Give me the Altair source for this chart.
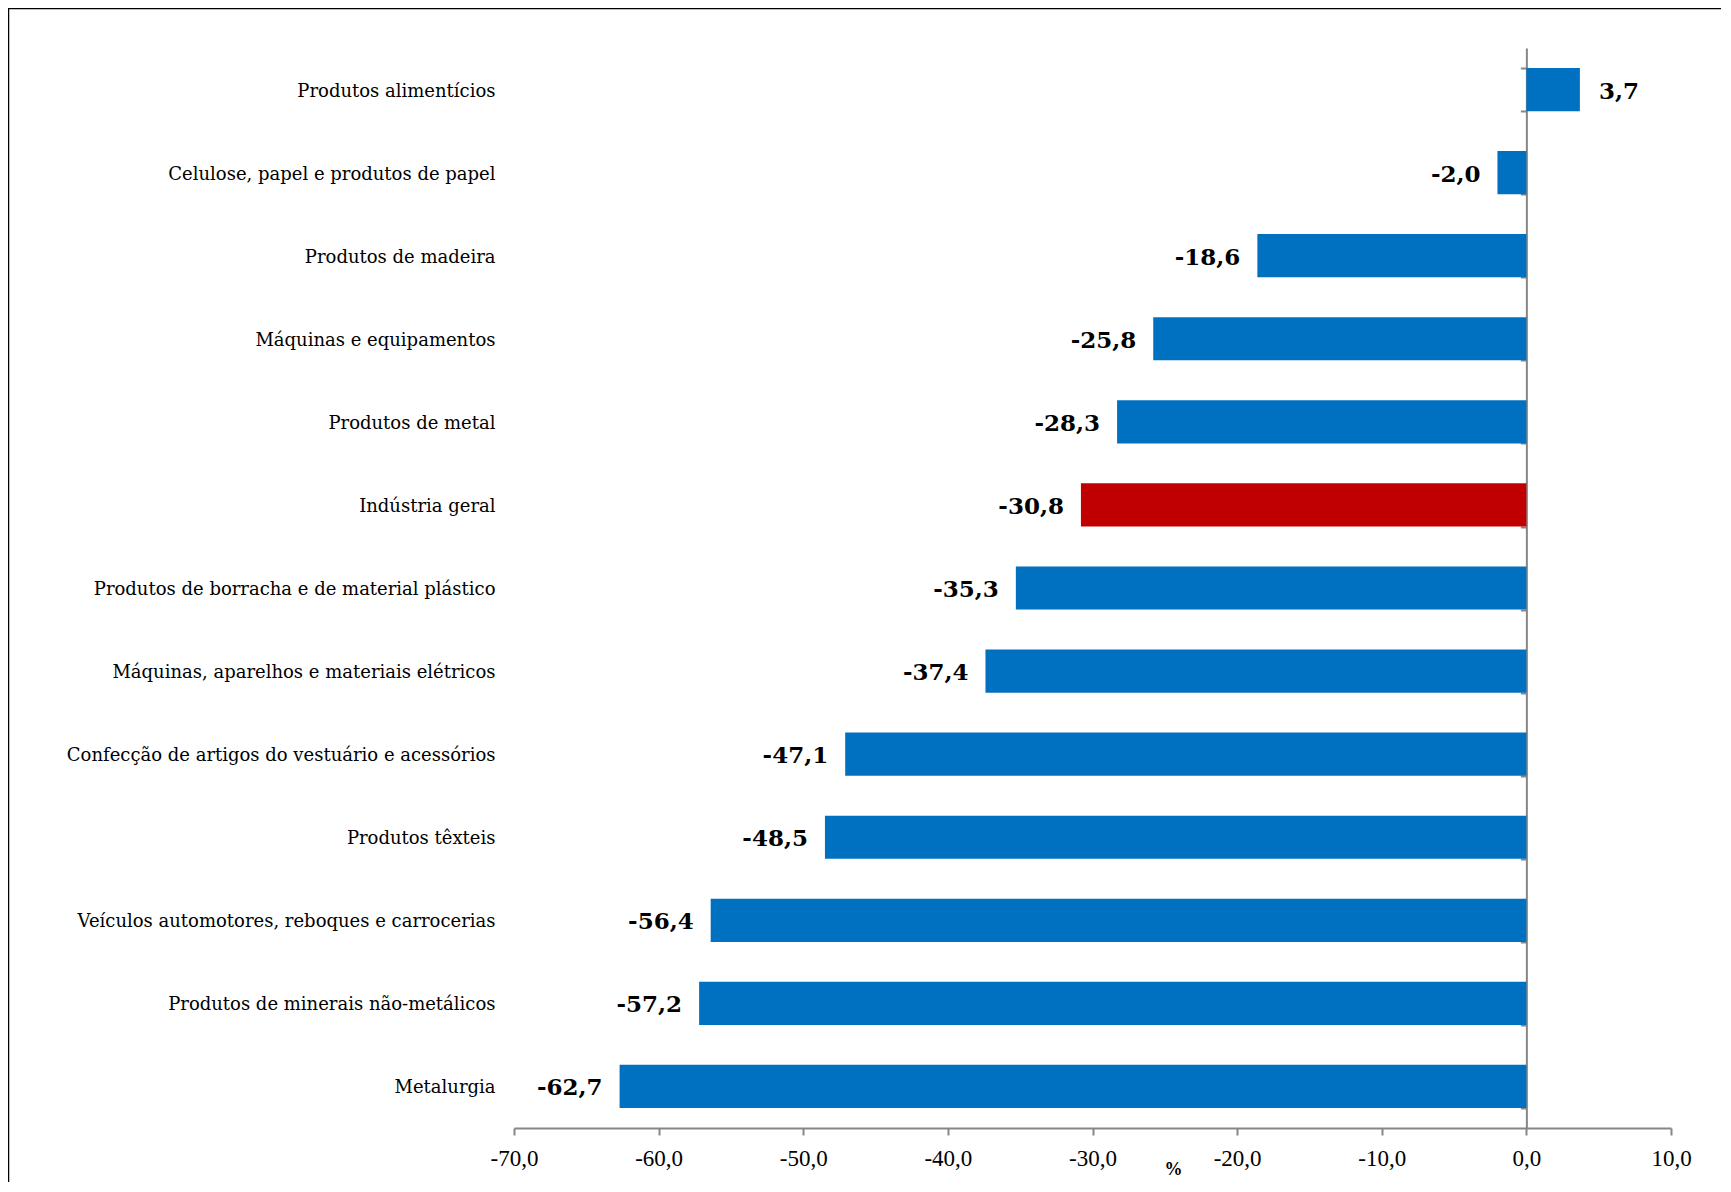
import altair as alt
import pandas as pd

categories = [
    "Produtos alimentícios",
    "Celulose, papel e produtos de papel",
    "Produtos de madeira",
    "Máquinas e equipamentos",
    "Produtos de metal",
    "Indústria geral",
    "Produtos de borracha e de material plástico",
    "Máquinas, aparelhos e materiais elétricos",
    "Confecção de artigos do vestuário e acessórios",
    "Produtos têxteis",
    "Veículos automotores, reboques e carrocerias",
    "Produtos de minerais não-metálicos",
    "Metalurgia",
]
values = [3.7, -2.0, -18.6, -25.8, -28.3, -30.8, -35.3, -37.4, -47.1, -48.5, -56.4, -57.2, -62.7]
highlight = "Indústria geral"
x_ticks = [-70, -60, -50, -40, -30, -20, -10, 0, 10]

df = pd.DataFrame({"cat": categories, "val": values})
df["grupo"] = ["total" if c == highlight else "setor" for c in categories]
df["lbl"] = [f"{v:.1f}".replace(".", ",") for v in values]

W, H = 1723, 1184
XR = [506, 1663]
YR = [40, 1120]
XD = [-70, 10]
zero_px = XR[0] + (0 - XD[0]) / (XD[1] - XD[0]) * (XR[1] - XR[0])

FONT = "Liberation Serif"
LFONT = "DejaVu Serif"
GRAY = "#868686"

x_enc = alt.X(
    "val:Q",
    scale=alt.Scale(domain=XD, range=XR, nice=False, zero=False),
    axis=alt.Axis(
        values=x_ticks,
        labelExpr="replace(replace(format(datum.value, '.1f'), '.', ','), '\u2212', '-')",
        orient="bottom",
        offset=-(H - YR[1]),
        domainColor=GRAY, domainWidth=2,
        tickColor=GRAY, tickWidth=2, tickSize=7,
        grid=False, labelFlush=False, labelOverlap=False,
        labelFont=FONT, labelFontSize=23, labelColor="#000000", labelPadding=12,
        title="%", titleFont=FONT, titleFontSize=18, titleFontWeight="bold",
        titleX=1165, titleY=32,
    ),
)

y_scale = alt.Scale(domain=categories, range=YR, paddingInner=0.48, paddingOuter=0.24)

bars = alt.Chart(df).mark_bar().encode(
    x=x_enc,
    x2=alt.datum(0),
    y=alt.Y(
        "cat:N", sort=categories, scale=y_scale,
        axis=alt.Axis(
            orient="left", offset=-487, domain=False, ticks=False, grid=False,
            labelFont=LFONT, labelFontSize=18, labelColor="#000000", labelPadding=0,
            labelOffset=2, labelLimit=600, title=None,
        ),
    ),
    color=alt.Color(
        "grupo:N",
        scale=alt.Scale(domain=["setor", "total"], range=["#0070C0", "#C00000"]),
        legend=None,
    ),
)

zero_axis = alt.Chart(df).mark_bar(opacity=0).encode(
    x=x_enc,
    x2=alt.datum(0),
    y=alt.Y(
        "cat:N", sort=categories, scale=y_scale,
        axis=alt.Axis(
            orient="left", offset=-zero_px, labels=False, grid=False,
            domainColor=GRAY, domainWidth=2,
            tickColor=GRAY, tickWidth=2, tickSize=6, tickBand="extent",
            title=None,
        ),
    ),
)

neg_text = alt.Chart(df).transform_filter("datum.val < 0").mark_text(
    align="right", baseline="middle", dx=-17, dy=2, font=LFONT, fontSize=23, fontWeight="bold", color="#000000"
).encode(
    x=x_enc,
    y=alt.Y("cat:N", sort=categories, scale=y_scale, axis=None),
    text="lbl:N",
)

pos_text = alt.Chart(df).transform_filter("datum.val >= 0").mark_text(
    align="left", baseline="middle", dx=19, dy=2, font=LFONT, fontSize=23, fontWeight="bold", color="#000000"
).encode(
    x=x_enc,
    y=alt.Y("cat:N", sort=categories, scale=y_scale, axis=None),
    text="lbl:N",
)

chart = (
    alt.layer(bars, zero_axis, neg_text, pos_text)
    .resolve_axis(y="independent")
    .properties(
        width=W, height=H,
        autosize=alt.AutoSizeParams(type="none"),
        padding={"left": 0, "top": 0, "right": -10, "bottom": -10},
        view=alt.ViewBackground(stroke="#000000", strokeWidth=2.5),
    )
    .configure(background="#ffffff")
)

chart.save("out.html", embed_options={"renderer": "svg", "actions": False})
